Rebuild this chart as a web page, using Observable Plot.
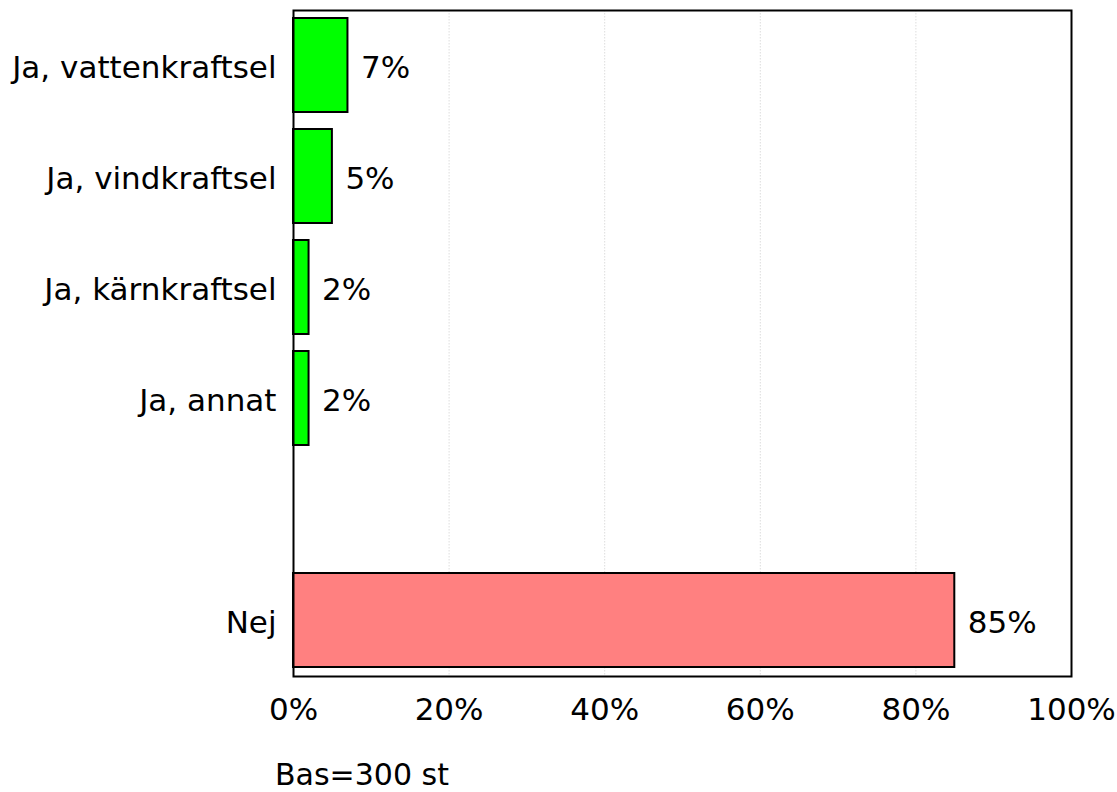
<!DOCTYPE html>
<html><head><meta charset="utf-8">
<script src="https://cdn.jsdelivr.net/npm/d3@7"></script>
<script src="https://cdn.jsdelivr.net/npm/@observablehq/plot@0.6"></script>
<style>
body{margin:0;background:#fff;font-family:"DejaVu Sans",sans-serif;overflow:hidden;}
#wrap{position:relative;width:1117px;height:792px;}
#cap{position:absolute;left:275px;top:760px;font-size:30px;line-height:30px;color:#000;white-space:nowrap;}
</style></head>
<body><div id="wrap"><div id="chart"></div><div id="cap">Bas=300 st</div></div>
<script>
const categories = ["Ja, vattenkraftsel", "Ja, vindkraftsel", "Ja, kärnkraftsel", "Ja, annat", "", "Nej"];
const barCategories = ["Ja, vattenkraftsel", "Ja, vindkraftsel", "Ja, kärnkraftsel", "Ja, annat", "Nej"];
const values = [7, 5, 2, 2, 85];
const colors = ["#00ff00", "#00ff00", "#00ff00", "#00ff00", "#ff8080"];
const xTicks = [0, 20, 40, 60, 80, 100];
const gridTicks = [20, 40, 60, 80];

const data = barCategories.map((c, i) => ({cat: c, value: values[i], color: colors[i]}));

const chart = Plot.plot({
  width: 1117,
  height: 750,
  marginLeft: 293,
  marginRight: 46,
  marginTop: 10,
  marginBottom: 74,
  style: {fontFamily: "DejaVu Sans, sans-serif", fontSize: "31px", color: "#000", background: "#fff"},
  x: {domain: [0, 100], ticks: xTicks, tickFormat: d => d + "%", label: null},
  y: {domain: categories, paddingInner: 0.15, paddingOuter: 0.075, label: null},
  marks: [
    Plot.ruleX(gridTicks, {stroke: "#dddddd", strokeWidth: 1, strokeDasharray: "1.5,1.5"}),
    Plot.barX(data, {x: "value", y: "cat", fill: d => d.color, stroke: "#000", strokeWidth: 2}),
    Plot.text(data, {x: "value", y: "cat", text: d => d.value + "%", textAnchor: "start", dx: 13, dy: 3, fontSize: 31, fill: "#000"}),
    Plot.frame({stroke: "#000", strokeWidth: 2}),
    Plot.axisX({ticks: xTicks, tickFormat: d => d + "%", tickSize: 0, tickPadding: 21, fontSize: 31, label: null}),
    Plot.axisY({tickSize: 0, tickPadding: 17, dy: 3, fontSize: 31, label: null, tickFormat: d => d})
  ]
});
document.getElementById("chart").appendChild(chart);
</script>
</body></html>
